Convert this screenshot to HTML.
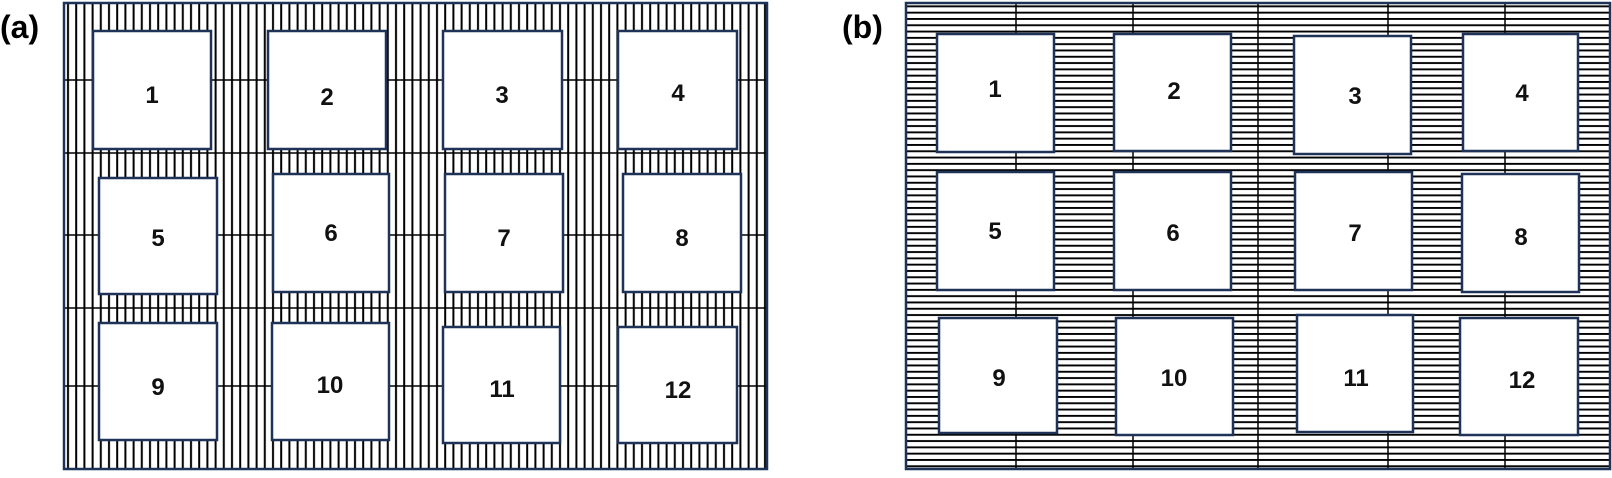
<!DOCTYPE html>
<html><head><meta charset="utf-8"><style>
body{margin:0;background:#fff;width:1612px;height:473px;overflow:hidden}
svg text{font-family:"Liberation Sans",sans-serif;font-weight:bold}
</style></head><body>
<svg width="1612" height="473" viewBox="0 0 1612 473" xmlns="http://www.w3.org/2000/svg">
<defs>
<pattern id="vp" x="64" y="0" width="8.2" height="10" patternUnits="userSpaceOnUse">
<rect x="3" y="0" width="2" height="10" fill="#000"/>
</pattern>
<pattern id="hp" x="0" y="3" width="10" height="6.3" patternUnits="userSpaceOnUse">
<rect x="0" y="2.4" width="10" height="1.9" fill="#000"/>
</pattern>
</defs>
<text x="0" y="38" font-size="32">(a)</text>
<text x="842" y="38" font-size="32">(b)</text>

<!-- panel a -->
<rect x="64" y="3" width="703" height="466" fill="url(#vp)"/>
<g stroke="#000" stroke-width="1.5">
<line x1="64" y1="80" x2="767" y2="80"/>
<line x1="64" y1="153" x2="767" y2="153"/>
<line x1="64" y1="235" x2="767" y2="235"/>
<line x1="64" y1="308" x2="767" y2="308"/>
<line x1="64" y1="386" x2="767" y2="386"/>
</g>
<rect x="64" y="3" width="703" height="466" fill="none" stroke="#1f3358" stroke-width="2.5"/>
<g fill="#fff" stroke="#1f3358" stroke-width="2.5">
<rect x="93" y="31" width="118" height="118"/>
<rect x="268" y="31" width="118" height="118"/>
<rect x="443" y="31" width="119" height="118"/>
<rect x="618" y="31" width="119" height="118"/>
<rect x="99" y="178" width="118" height="116"/>
<rect x="273" y="174" width="116" height="118"/>
<rect x="445" y="174" width="118" height="118"/>
<rect x="623" y="174" width="118" height="118"/>
<rect x="99" y="323" width="118" height="117"/>
<rect x="272" y="323" width="117" height="117"/>
<rect x="443" y="327" width="117" height="116"/>
<rect x="618" y="327" width="119" height="116"/>
</g>
<g font-size="24" text-anchor="middle" fill="#111">
<text x="152" y="103">1</text><text x="327" y="105">2</text><text x="502" y="103">3</text><text x="678" y="101">4</text>
<text x="158" y="246">5</text><text x="331" y="241">6</text><text x="504" y="246">7</text><text x="682" y="246">8</text>
<text x="158" y="395">9</text><text x="330" y="393">10</text><text x="502" y="397">11</text><text x="678" y="398">12</text>
</g>

<!-- panel b -->
<rect x="906" y="3" width="704" height="466" fill="url(#hp)"/>
<g stroke="#000" stroke-width="1.5">
<line x1="1016" y1="3" x2="1016" y2="469"/>
<line x1="1133" y1="3" x2="1133" y2="469"/>
<line x1="1258" y1="3" x2="1258" y2="469"/>
<line x1="1388" y1="3" x2="1388" y2="469"/>
<line x1="1505" y1="3" x2="1505" y2="469"/>
</g>
<rect x="906" y="3" width="704" height="466" fill="none" stroke="#1f3358" stroke-width="2.5"/>
<g fill="#fff" stroke="#1f3358" stroke-width="2.5">
<rect x="937" y="34" width="117" height="118"/>
<rect x="1114" y="34" width="117" height="117"/>
<rect x="1294" y="36" width="117" height="118"/>
<rect x="1463" y="34" width="115" height="117"/>
<rect x="937" y="172" width="117" height="118"/>
<rect x="1114" y="172" width="117" height="118"/>
<rect x="1295" y="172" width="117" height="118"/>
<rect x="1462" y="174" width="117" height="118"/>
<rect x="939" y="318" width="118" height="115"/>
<rect x="1116" y="318" width="117" height="117"/>
<rect x="1297" y="315" width="116" height="117"/>
<rect x="1460" y="318" width="118" height="117"/>
</g>
<g font-size="24" text-anchor="middle" fill="#111">
<text x="995" y="97">1</text><text x="1174" y="99">2</text><text x="1355" y="104">3</text><text x="1522" y="101">4</text>
<text x="995" y="239">5</text><text x="1173" y="241">6</text><text x="1355" y="241">7</text><text x="1521" y="245">8</text>
<text x="999" y="386">9</text><text x="1174" y="386">10</text><text x="1356" y="386">11</text><text x="1522" y="388">12</text>
</g>
</svg>
</body></html>
